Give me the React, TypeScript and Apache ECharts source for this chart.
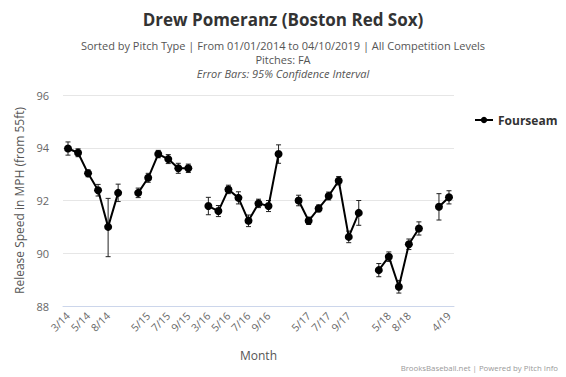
import React, { useEffect, useRef } from "react";
import * as echarts from "echarts";

const months: string[] = [
  "3/14", "4/14", "5/14", "6/14", "8/14", "9/14", "",
  "4/15", "5/15", "6/15", "7/15", "8/15", "9/15", "",
  "3/16", "4/16", "5/16", "6/16", "7/16", "8/16", "9/16", "10/16", "",
  "4/17", "5/17", "6/17", "7/17", "8/17", "9/17", "10/17", "",
  "4/18", "5/18", "7/18", "8/18", "9/18", "",
  "3/19", "4/19",
];

const speed: (number | null)[] = [
  93.97, 93.81, 93.03, 92.39, 91.0, 92.29, null,
  92.29, 92.86, 93.76, 93.57, 93.22, 93.22, null,
  91.79, 91.6, 92.42, 92.1, 91.23, 91.89, 91.79, 93.76, null,
  92.0, 91.23, 91.7, 92.17, 92.75, 90.62, 91.53, null,
  89.36, 89.87, 88.73, 90.34, 90.94, null,
  91.76, 92.12,
];

const errLow: (number | null)[] = [
  93.72, 93.66, 92.9, 92.17, 89.87, 91.96, null,
  92.11, 92.69, 93.62, 93.4, 93.03, 93.06, null,
  91.46, 91.39, 92.26, 91.87, 91.01, 91.73, 91.58, 93.41, null,
  91.8, 91.09, 91.57, 92.02, 92.59, 90.4, 91.06, null,
  89.11, 89.69, 88.49, 90.14, 90.69, null,
  91.26, 91.87,
];

const errHigh: (number | null)[] = [
  94.22, 93.96, 93.16, 92.61, 92.08, 92.62, null,
  92.47, 93.03, 93.9, 93.74, 93.41, 93.38, null,
  92.12, 91.81, 92.58, 92.33, 91.45, 92.05, 92.0, 94.11, null,
  92.2, 91.37, 91.83, 92.32, 92.91, 90.84, 92.0, null,
  89.61, 90.05, 88.97, 90.54, 91.19, null,
  92.26, 92.37,
];

const yTicks = { min: 88, max: 96, interval: 2 };

const FONT = "'Open Sans', 'DejaVu Sans', sans-serif";

export default function App() {
  const ref = useRef<HTMLDivElement>(null);
  useEffect(() => {
    if (!ref.current) return;
    const chart = echarts.init(ref.current, null, { renderer: "svg" });
    const errData: number[][] = [];
    speed.forEach((v, i) => {
      if (v !== null && errLow[i] !== null && errHigh[i] !== null) {
        errData.push([i, errLow[i] as number, errHigh[i] as number]);
      }
    });
    chart.setOption({
      animation: false,
      backgroundColor: "#ffffff",
      textStyle: { fontFamily: FONT },
      title: [
        {
          text: "Drew Pomeranz (Boston Red Sox)",
          left: "center",
          top: 6,
          textStyle: { fontFamily: FONT, fontSize: 17, fontWeight: "bold", color: "#333333" },
        },
        {
          text: "Sorted by Pitch Type | From 01/01/2014 to 04/10/2019 | All Competition Levels",
          left: "center",
          top: 35,
          textStyle: { fontFamily: FONT, fontSize: 11, fontWeight: "normal", color: "#555555" },
        },
        {
          text: "Pitches: FA",
          left: "center",
          top: 49,
          textStyle: { fontFamily: FONT, fontSize: 11, fontWeight: "normal", color: "#555555" },
        },
        {
          text: "Error Bars: 95% Confidence Interval",
          left: "center",
          top: 63,
          textStyle: { fontFamily: FONT, fontSize: 11, fontWeight: "normal", fontStyle: "italic", color: "#555555" },
        },
      ],
      legend: {
        orient: "vertical",
        left: 469,
        top: 109,
        itemWidth: 18,
        itemHeight: 8,
        data: ["Fourseam"],
        textStyle: { fontFamily: FONT, fontSize: 12, fontWeight: "bold", color: "#333333" },
      },
      grid: { left: 63, right: 112, top: 95, bottom: 71, containLabel: false },
      xAxis: {
        type: "category",
        data: months,
        boundaryGap: true,
        name: "Month",
        nameLocation: "middle",
        nameGap: 43,
        nameTextStyle: { fontFamily: FONT, fontSize: 12, color: "#555555" },
        axisLine: { lineStyle: { color: "#ccd6eb" } },
        axisTick: { show: false },
        axisLabel: {
          interval: 1,
          rotate: 45,
          fontFamily: FONT,
          fontSize: 10.5,
          color: "#666666",
          margin: 8,
        },
      },
      yAxis: {
        type: "value",
        min: yTicks.min,
        max: yTicks.max,
        interval: yTicks.interval,
        name: "Release Speed in MPH (from 55ft)",
        nameLocation: "middle",
        nameGap: 36,
        nameTextStyle: { fontFamily: FONT, fontSize: 12, color: "#555555" },
        axisLine: { show: false },
        axisTick: { show: false },
        axisLabel: { fontFamily: FONT, fontSize: 11, color: "#666666", margin: 14 },
        splitLine: { lineStyle: { color: "#e6e6e6" } },
      },
      series: [
        {
          type: "custom",
          name: "err",
          z: 1,
          data: errData,
          encode: { x: 0, y: [1, 2] },
          renderItem: (params: any, api: any) => {
            const i = api.value(0);
            const lo = api.coord([i, api.value(1)]);
            const hi = api.coord([i, api.value(2)]);
            const w = 2.5;
            const style = { stroke: "#222222", lineWidth: 1 };
            return {
              type: "group",
              children: [
                { type: "line", shape: { x1: lo[0], y1: lo[1], x2: hi[0], y2: hi[1] }, style },
                { type: "line", shape: { x1: lo[0] - w, y1: lo[1], x2: lo[0] + w, y2: lo[1] }, style },
                { type: "line", shape: { x1: hi[0] - w, y1: hi[1], x2: hi[0] + w, y2: hi[1] }, style },
              ],
            };
          },
        },
        {
          type: "line",
          name: "Fourseam",
          z: 3,
          data: speed,
          connectNulls: false,
          showSymbol: true,
          showAllSymbol: true,
          symbol: "circle",
          symbolSize: 8,
          itemStyle: { color: "#000000" },
          lineStyle: { color: "#000000", width: 2 },
        },
      ],
      graphic: [
        {
          type: "text",
          right: 8,
          bottom: 5,
          style: {
            text: "BrooksBaseball.net | Powered by Pitch Info",
            fontFamily: FONT,
            fontSize: 7.8,
            fill: "#999999",
          },
        },
      ],
    });
    return () => chart.dispose();
  }, []);
  return (
    <div
      ref={ref}
      style={{ position: "absolute", left: 0, top: 0, width: 566, height: 377 }}
    />
  );
}
